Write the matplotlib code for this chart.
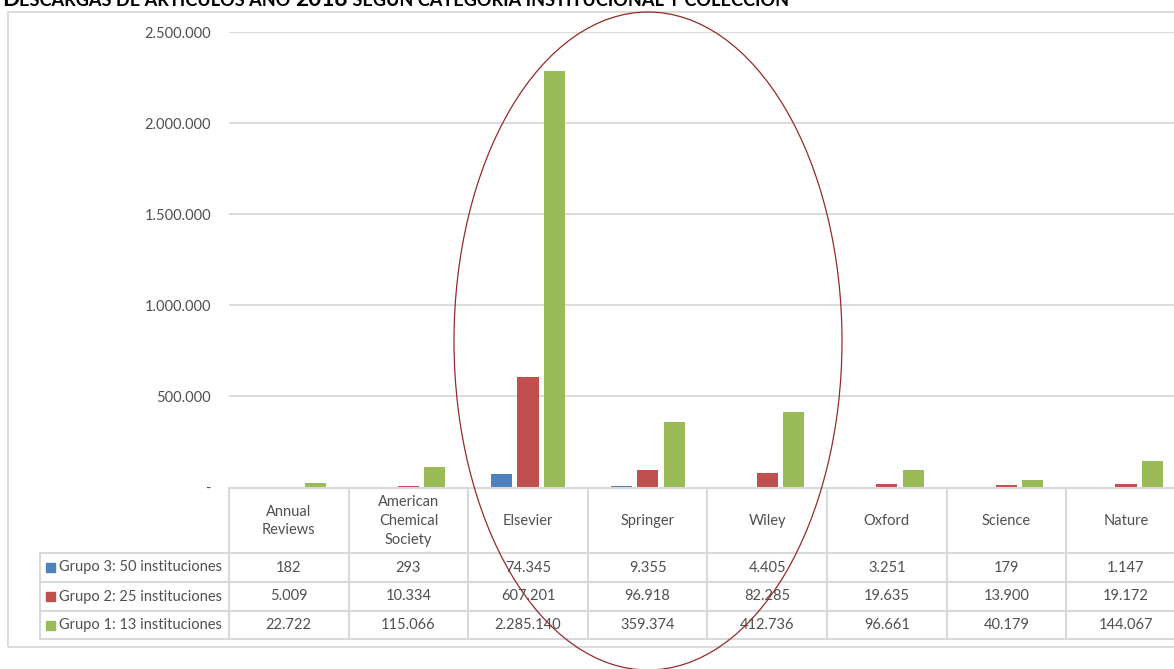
import numpy as np
import matplotlib
matplotlib.use('Agg')
import matplotlib.pyplot as plt
from matplotlib.patches import Ellipse, Rectangle
from matplotlib.lines import Line2D
from matplotlib.transforms import blended_transform_factory

# datos
categorias = ['Annual\nReviews', 'American\nChemical\nSociety', 'Elsevier', 'Springer',
              'Wiley', 'Oxford', 'Science', 'Nature']
grupo3 = [182, 293, 74345, 9355, 4405, 3251, 179, 1147]
grupo2 = [5009, 10334, 607201, 96918, 82285, 19635, 13900, 19172]
grupo1 = [22722, 115066, 2285140, 359374, 412736, 96661, 40179, 144067]
nombres = ['Grupo 3: 50 instituciones', 'Grupo 2: 25 instituciones', 'Grupo 1: 13 instituciones']
colores = ['#4F81BD', '#C0504D', '#9BBB59']
yticks = [0, 500000, 1000000, 1500000, 2000000, 2500000]

W, H = 1174, 669
plt.rcParams['font.family'] = ['Lato', 'DejaVu Sans']
gris = '#505050'
linea = '#D9D9D9'
fs = 10.5

fig = plt.figure(figsize=(W / 100, H / 100), dpi=100)

def fy(py):
    return 1 - py / H

def fx(px):
    return px / W

col_w = 119.6
ax = fig.add_axes([fx(229), fy(487.5), 8 * col_w / W, (487.5 - 32) / H])
ax.set_xlim(-0.5, 7.5)
ax.set_ylim(0, 2500000)

x = np.arange(len(categorias))
ancho = 0.176
paso = 0.222
for i, (serie, c) in enumerate(zip([grupo3, grupo2, grupo1], colores)):
    ax.bar(x + (i - 1) * paso, serie, width=ancho, color=c, zorder=3)

ax.set_yticks(yticks)
ax.set_yticklabels(['-' if v == 0 else f'{v:,}'.replace(',', '.') for v in yticks],
                   color=gris, fontsize=fs)
ax.tick_params(axis='y', length=0, pad=13)
ax.set_xticks([])
ax.grid(axis='y', color=linea, linewidth=1.3, zorder=0)
for s in ax.spines.values():
    s.set_visible(False)
ax.patch.set_alpha(0)

# marco exterior
fig.patches.append(Rectangle((fx(8), fy(647)), fx(1180 - 8), (647 - 12) / H,
                             transform=fig.transFigure, fill=False,
                             edgecolor=linea, linewidth=1.3))

# tabla de datos
tr = blended_transform_factory(ax.transData, fig.transFigure)
x_izq = -0.5 - (229 - 40) / col_w
x_der = 7.5
filas = [553, 582, 611, 639]
kw = dict(transform=tr, color=linea, linewidth=1.5, clip_on=False)
fig.add_artist(Line2D([-0.5, x_der], [fy(488), fy(488)], **kw))
for py in filas:
    fig.add_artist(Line2D([x_izq, x_der], [fy(py), fy(py)], **kw))
for k in range(9):
    fig.add_artist(Line2D([k - 0.5, k - 0.5], [fy(488), fy(639)], **kw))
fig.add_artist(Line2D([x_izq, x_izq], [fy(553), fy(639)], **kw))

for k, cat in enumerate(categorias):
    fig.text(k, fy(521), cat, transform=tr, ha='center', va='center',
             color=gris, fontsize=fs, linespacing=1.45)

for j, (serie, nombre, c) in enumerate(zip([grupo3, grupo2, grupo1], nombres, colores)):
    yc = fy((filas[j] + filas[j + 1]) / 2)
    for k, v in enumerate(serie):
        fig.text(k, yc, f'{v:,}'.replace(',', '.'), transform=tr, ha='center',
                 va='center', color=gris, fontsize=fs)
    fig.patches.append(Rectangle((fx(46), yc - 4.5 / H), 8.5 / W, 9 / H,
                                 transform=fig.transFigure, color=c))
    fig.text(fx(59), yc, nombre, ha='left', va='center', color=gris, fontsize=fs)

# elipse
fig.patches.append(Ellipse((fx(648), fy(341)), 388 / W, 658 / H,
                           transform=fig.transFigure, fill=False,
                           edgecolor='#962B2B', linewidth=0.9, zorder=10))

# titulo (versalitas, cortado arriba)
partes = [('D', 16.3), ('ESCARGAS DE ARTÍCULOS AÑO ', 13.1), ('2018', 16.3),
          (' SEGÚN CATEGORÍA INSTITUCIONAL Y COLECCIÓN', 13.1)]
renderer = fig.canvas.get_renderer()
px = 2
for txt, size in partes:
    t = fig.text(fx(px), fy(6.5), txt, fontsize=size, fontweight='bold',
                 color='black', ha='left', va='baseline')
    px += t.get_window_extent(renderer).width

fig.savefig('out.png', dpi=100)
